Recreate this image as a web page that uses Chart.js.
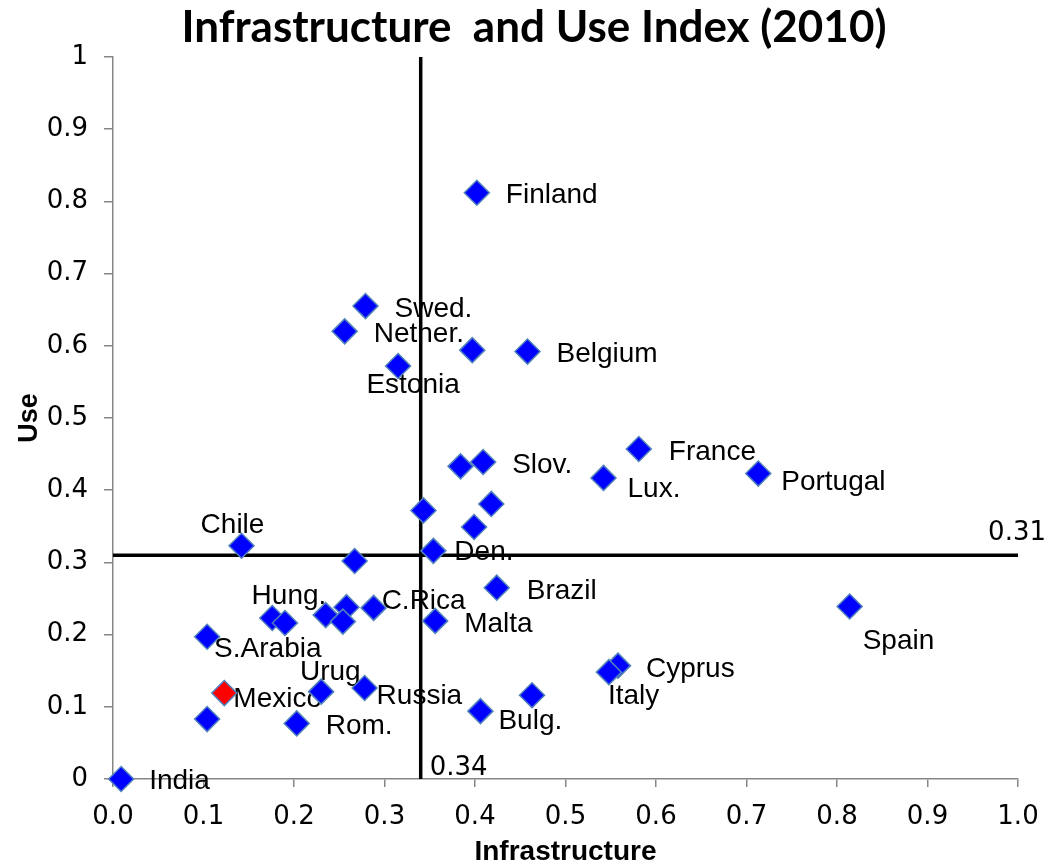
<!DOCTYPE html>
<html>
<head>
<meta charset="utf-8">
<script src="https://cdn.jsdelivr.net/npm/chart.js@4/dist/chart.umd.min.js"></script>
<style>
  html, body { margin: 0; padding: 0; background: #ffffff; }
  #wrap { width: 1048px; height: 863px; }
</style>
</head>
<body>
<div id="wrap"><canvas id="chart" width="1048" height="863"></canvas></div>
<script>
// Country labels ('' = point drawn without a label)
const countries = [
  'India', 'Finland', 'Swed.', 'Nether.', '', 'Belgium', 'Estonia', 'France',
  'Slov.', '', 'Lux.', 'Portugal', '', '', '', 'Chile', 'Den.', '', 'Brazil',
  'Spain', '', 'Hung.', '', '', '', 'C.Rica', 'Malta', 'S.Arabia', 'Cyprus',
  'Italy', 'Urug.', 'Russia', 'Mexico', '', 'Bulg.', '', 'Rom.'
];
// Infrastructure index (x)
const infrastructure = [
  0.009, 0.402, 0.279, 0.256, 0.397, 0.458, 0.315, 0.581,
  0.409, 0.384, 0.542, 0.713, 0.343, 0.418, 0.399, 0.142, 0.354, 0.267, 0.424,
  0.814, 0.176, 0.190, 0.235, 0.258, 0.254, 0.288, 0.356, 0.104, 0.558,
  0.548, 0.230, 0.278, 0.123, 0.463, 0.406, 0.104, 0.203
];
// Use index (y)
const useIndex = [
  0.000, 0.812, 0.655, 0.620, 0.594, 0.592, 0.572, 0.457,
  0.439, 0.433, 0.417, 0.423, 0.372, 0.381, 0.349, 0.323, 0.316, 0.302, 0.265,
  0.239, 0.223, 0.216, 0.227, 0.238, 0.218, 0.237, 0.219, 0.197, 0.157,
  0.148, 0.121, 0.126, 0.119, 0.116, 0.094, 0.083, 0.077
];
const xTickValues = [0, 0.1, 0.2, 0.3, 0.4, 0.5, 0.6, 0.7, 0.8, 0.9, 1.0];
const xTickLabels = ['0.0', '0.1', '0.2', '0.3', '0.4', '0.5', '0.6', '0.7', '0.8', '0.9', '1.0'];
const yTickValues = [0, 0.1, 0.2, 0.3, 0.4, 0.5, 0.6, 0.7, 0.8, 0.9, 1];
const yTickLabels = ['0', '0.1', '0.2', '0.3', '0.4', '0.5', '0.6', '0.7', '0.8', '0.9', '1'];
const infraCut = 0.34;   // vertical divider
const useCut = 0.31;     // horizontal divider
const highlighted = 'Mexico';

// Label placement: [dx, dy (baseline), alignment] in pixels from the marker
const labelPlacement = {
  'India':   [28, 10, 'left'],
  'Finland': [29, 10, 'left'],
  'Swed.':   [29, 11, 'left'],
  'Nether.': [29, 11, 'left'],
  'Belgium': [29, 10, 'left'],
  'Estonia': [15, 27, 'center'],
  'France':  [30, 11, 'left'],
  'Slov.':   [29, 11, 'left'],
  'Lux.':    [24, 19, 'left'],
  'Portugal':[23, 16, 'left'],
  'Chile':   [-9, -13, 'center'],
  'Den.':    [21, 9, 'left'],
  'Brazil':  [30, 11, 'left'],
  'Spain':   [13, 43, 'left'],
  'Hung.':   [4, -19, 'center'],
  'C.Rica':  [8, 1, 'left'],
  'Malta':   [29, 11, 'left'],
  'S.Arabia':[7, 20, 'left'],
  'Cyprus':  [28, 11, 'left'],
  'Italy':   [-1, 32, 'left'],
  'Urug.':   [13, -12, 'center'],
  'Russia':  [12, 16, 'left'],
  'Mexico':  [9, 14, 'left'],
  'Bulg.':   [18, 18, 'left'],
  'Rom.':    [29, 11, 'left']
};

const allPoints = infrastructure.map((x, i) => ({ x: x, y: useIndex[i], name: countries[i] }));
const regularPoints = allPoints.filter(p => p.name !== highlighted);
const highlightPoints = allPoints.filter(p => p.name === highlighted);

const AXIS_GREY = '#868686';
const NUM_FONT = '"DejaVu Sans", sans-serif';
const TEXT_FONT = '"Liberation Sans", Arial, sans-serif';

const annotationPlugin = {
  id: 'quadrantText',
  beforeDatasetsDraw(chart) {
    const ctx = chart.ctx;
    const xs = chart.scales.x, ys = chart.scales.y;
    ctx.save();
    ctx.fillStyle = '#000000';
    ctx.textBaseline = 'alphabetic';
    ctx.font = '28px ' + TEXT_FONT;
    allPoints.forEach(p => {
      if (!p.name) return;
      const place = labelPlacement[p.name] || [26, 10, 'left'];
      ctx.textAlign = place[2];
      ctx.fillText(p.name, xs.getPixelForValue(p.x) + place[0], ys.getPixelForValue(p.y) + place[1]);
    });
    // divider values
    ctx.font = '26px ' + NUM_FONT;
    ctx.textAlign = 'right';
    ctx.fillText(useCut.toFixed(2), xs.right + 28, ys.getPixelForValue(useCut) - 15);
    ctx.textAlign = 'left';
    ctx.fillText(infraCut.toFixed(2), xs.getPixelForValue(infraCut) + 9, ys.bottom - 4);
    ctx.restore();
  },
  afterDraw(chart) {
    const ctx = chart.ctx;
    const area = chart.chartArea;
    ctx.save();
    ctx.fillStyle = '#000000';
    ctx.textAlign = 'center';
    ctx.textBaseline = 'alphabetic';
    ctx.font = 'bold 44px Lato, "Open Sans", sans-serif';
    ctx.fillText('Infrastructure  and Use Index (2010)', 534, 42);
    ctx.font = 'bold 28px ' + TEXT_FONT;
    ctx.fillText('Infrastructure', (area.left + area.right) / 2, 860);
    ctx.translate(37, (area.top + area.bottom) / 2);
    ctx.rotate(-Math.PI / 2);
    ctx.font = 'bold 27px ' + TEXT_FONT;
    ctx.fillText('Use', 0, 0);
    ctx.restore();
  }
};

const markerStyle = {
  pointStyle: 'rectRot',
  pointRadius: 12.5,
  pointHoverRadius: 12.5,
  pointBorderColor: '#4F81BD',
  pointBorderWidth: 1.5,
  clip: false
};

new Chart(document.getElementById('chart'), {
  type: 'scatter',
  data: {
    datasets: [
      {
        label: 'Use divider',
        data: [{ x: 0, y: useCut }, { x: 1, y: useCut }],
        showLine: true, borderColor: '#000000', borderWidth: 3.5,
        pointRadius: 0, order: 2
      },
      {
        label: 'Infrastructure divider',
        data: [{ x: infraCut, y: 0 }, { x: infraCut, y: 1 }],
        showLine: true, borderColor: '#000000', borderWidth: 3.5,
        pointRadius: 0, order: 2
      },
      Object.assign({
        label: 'Countries',
        data: regularPoints,
        pointBackgroundColor: '#0000FF',
        order: 1
      }, markerStyle),
      Object.assign({
        label: highlighted,
        data: highlightPoints,
        pointBackgroundColor: '#FF0000',
        order: 0
      }, markerStyle)
    ]
  },
  options: {
    responsive: false,
    animation: false,
    devicePixelRatio: 1,
    layout: { padding: { top: 57, right: 30, left: 0, bottom: 0 } },
    plugins: {
      legend: { display: false },
      title: { display: false },
      tooltip: { enabled: false }
    },
    scales: {
      x: {
        type: 'linear', min: 0, max: 1, position: 'bottom',
        afterBuildTicks: s => { s.ticks = xTickValues.map(v => ({ value: v })); },
        afterFit: s => { s.height = 84; s.paddingLeft = 0; s.paddingRight = 0; },
        ticks: {
          callback: (v, i) => xTickLabels[i],
          color: '#000000', font: { family: NUM_FONT, size: 26 }, padding: 15,
          maxRotation: 0, autoSkip: false
        },
        grid: { drawOnChartArea: false, drawTicks: true, tickLength: 8, color: AXIS_GREY, lineWidth: 1.5 },
        border: { color: AXIS_GREY, width: 1.5 }
      },
      y: {
        type: 'linear', min: 0, max: 1,
        afterBuildTicks: s => { s.ticks = yTickValues.map(v => ({ value: v })); },
        afterFit: s => { s.width = 113; s.paddingTop = 0; s.paddingBottom = 0; },
        ticks: {
          callback: (v, i) => yTickLabels[i],
          color: '#000000', font: { family: NUM_FONT, size: 26 }, padding: 16,
          autoSkip: false
        },
        grid: { drawOnChartArea: false, drawTicks: true, tickLength: 9, color: AXIS_GREY, lineWidth: 1.5 },
        border: { color: AXIS_GREY, width: 1.5 }
      }
    }
  },
  plugins: [annotationPlugin]
});
</script>
</body>
</html>
